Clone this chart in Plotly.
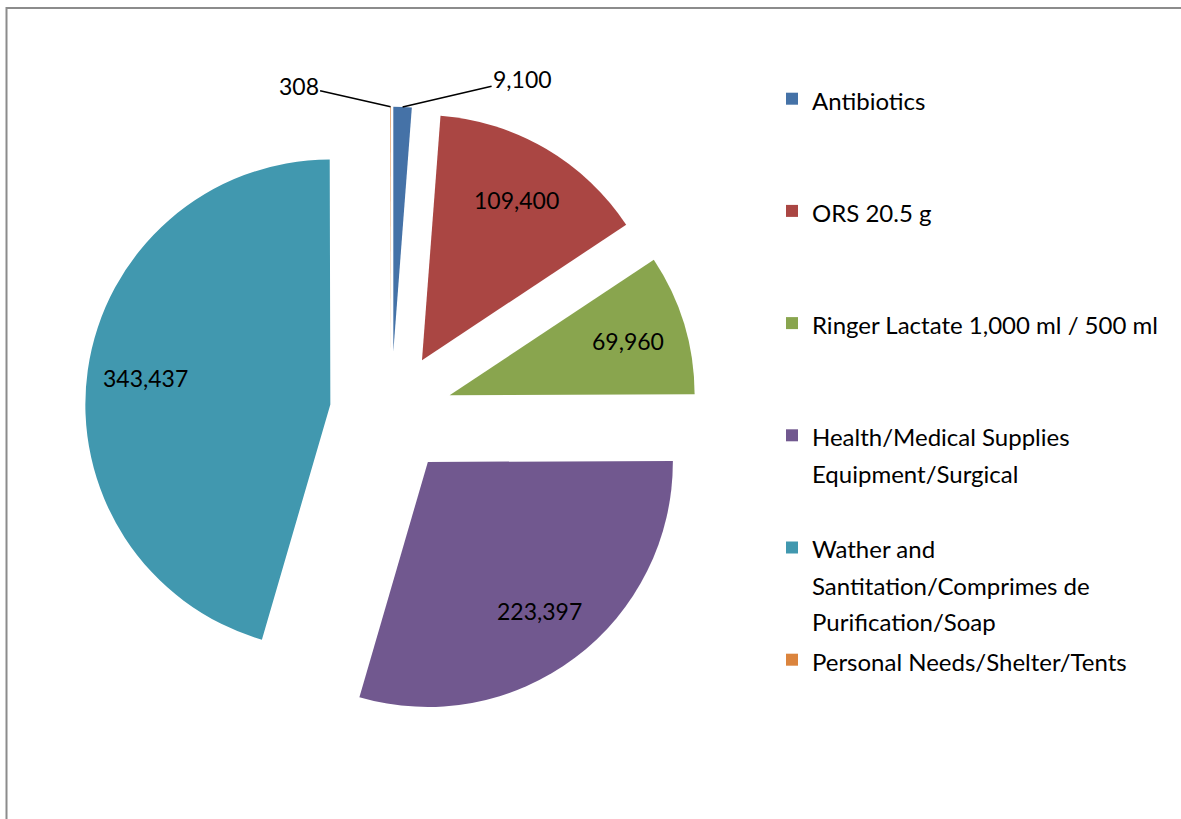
import math
import plotly.graph_objects as go

# ---- data ----
categories = [
    "Antibiotics",
    "ORS 20.5 g",
    "Ringer Lactate 1,000 ml / 500 ml",
    "Health/Medical Supplies<br>Equipment/Surgical",
    "Wather and<br>Santitation/Comprimes de<br>Purification/Soap",
    "Personal Needs/Shelter/Tents",
]
values = [9100, 109400, 69960, 223397, 343437, 308]
colors = ["#4572A7", "#AA4643", "#89A54E", "#71588F", "#4198AF", "#DB843D"]
outside_idx = [0, 5]

# ---- layout constants ----
W, H = 1181, 819
FONT = "Lato"
PULL = 0.25
CX, CY, RX = 391, 413, 306.25  # pie box centre / half size (px)
R = RX / (1 + PULL)
D = PULL * R
dom_x = [(CX - RX) / W, (CX + RX) / W]
dom_y = [(H - CY - RX) / H, (H - CY + RX) / H]

# legend labels: each entry padded to 3 lines so entries are evenly spaced
def legend_label(s):
    n = s.count("<br>") + 1
    body = "<br>".join(f"<span style='font-size:24px'>{p}</span>" for p in s.split("<br>"))
    return body + "<br> " * (3 - n)

leg_labels = [legend_label(c) for c in categories]

fig = go.Figure(
    go.Pie(
        labels=leg_labels,
        values=values,
        sort=False,
        direction="clockwise",
        rotation=0,
        pull=[PULL] * len(values),
        marker=dict(colors=colors, line=dict(width=0)),
        textinfo="none",
        domain=dict(x=dom_x, y=dom_y),
        hoverinfo="label+value",
    )
)

# value labels, positioned from the slice angles
total = sum(values)
cum = 0
offsets = {0: (120, -28), 5: (-92, -21)}
for i, v in enumerate(values):
    mid = (cum + v / 2) / total * 2 * math.pi
    cum += v
    if i in outside_idx:
        dist = D + R
        px = CX + dist * math.sin(mid)
        py = CY - dist * math.cos(mid)
        ax, ay = offsets[i]
        fig.add_annotation(
            x=px / W, y=1 - py / H, xref="paper", yref="paper",
            text=f"{v:,}", showarrow=True, arrowhead=0, arrowwidth=1.5,
            arrowcolor="black", ax=ax, ay=ay, standoff=0,
            xanchor="center", yanchor="middle",
            font=dict(family=FONT, size=23, color="black"),
        )
    else:
        dist = D + 0.76 * R
        px = CX + dist * math.sin(mid)
        py = CY - dist * math.cos(mid)
        fig.add_annotation(
            x=px / W, y=1 - py / H, xref="paper", yref="paper",
            text=f"{v:,}", showarrow=False,
            xanchor="center", yanchor="middle",
            font=dict(family=FONT, size=23, color="black"),
        )

# chart-area border: only the left and top edges are visible
bx, by = 6.5 / W, 1 - 8 / H
fig.add_shape(
    type="path", xref="paper", yref="paper",
    path=f"M {bx},0 L {bx},{by} L 1,{by}",
    line=dict(color="#8C8C8C", width=2), fillcolor="rgba(0,0,0,0)",
)

fig.update_layout(
    width=W, height=H,
    margin=dict(l=0, r=0, t=0, b=0),
    paper_bgcolor="white", plot_bgcolor="white",
    font=dict(family=FONT, color="black"),
    showlegend=True,
    legend=dict(
        x=772 / W, y=1 - 74 / H, xanchor="left", yanchor="top",
        font=dict(family=FONT, size=28, color="black"),
        valign="top", bgcolor="rgba(0,0,0,0)",
    ),
)

fig.write_html(
    "out.html",
    config={"displayModeBar": False},
    post_script="document.body.style.margin='0';document.body.style.overflow='hidden';",
)
